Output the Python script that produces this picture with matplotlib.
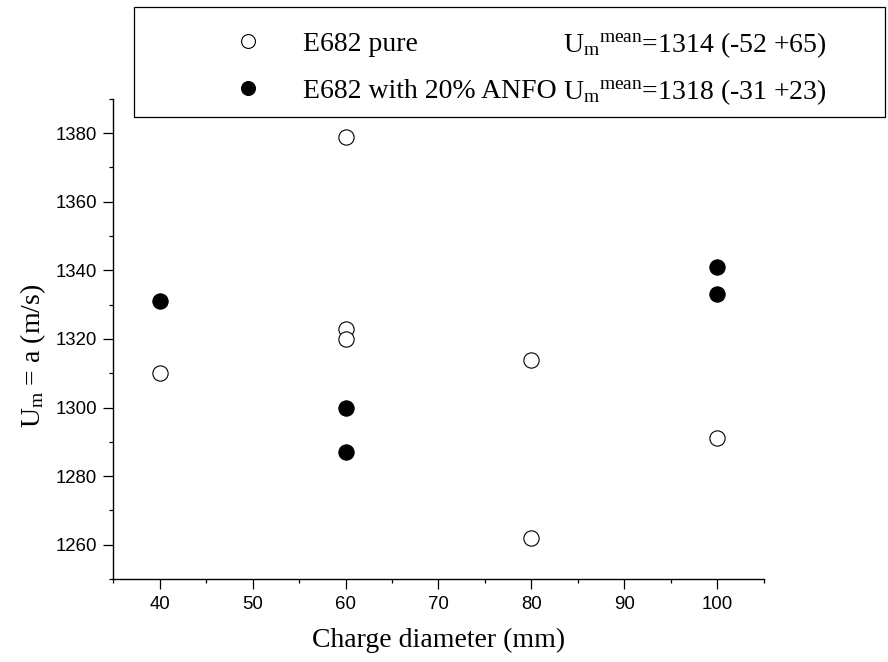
import matplotlib
matplotlib.use('Agg')
import matplotlib.pyplot as plt
from matplotlib.lines import Line2D
from matplotlib.patches import Rectangle
from matplotlib.ticker import MultipleLocator

plt.rcParams['mathtext.fontset'] = 'custom'
plt.rcParams['mathtext.rm'] = 'Liberation Serif'
plt.rcParams['mathtext.it'] = 'Liberation Serif:italic'

# E682 pure (open circles)
pure_d = [40, 60, 60, 60, 80, 80, 100]
pure_u = [1310, 1379, 1323, 1320, 1314, 1262, 1291]

# E682 with 20% ANFO (filled circles)
anfo_d = [40, 60, 60, 100, 100]
anfo_u = [1331, 1300, 1287, 1341, 1333]

labels = ['E682 pure', 'E682 with 20% ANFO']
stats = [r'U$_\mathrm{m}{}^\mathrm{mean}$=1314 (-52 +65)',
         r'U$_\mathrm{m}{}^\mathrm{mean}$=1318 (-31 +23)']

fig = plt.figure(figsize=(8.88, 6.62), dpi=100)
ax = fig.add_axes([0.1278, 0.1254, 0.732, 0.7252])

ax.plot(pure_d, pure_u, 'o', ms=11, mfc='white', mec='black', mew=0.8, zorder=3)
ax.plot(anfo_d, anfo_u, 'o', ms=11, mfc='black', mec='black', mew=0.8, zorder=3)

ax.set_xlim(35, 105)
ax.set_ylim(1250, 1390)
ax.xaxis.set_major_locator(MultipleLocator(10))
ax.xaxis.set_minor_locator(MultipleLocator(5))
ax.yaxis.set_major_locator(MultipleLocator(20))
ax.yaxis.set_minor_locator(MultipleLocator(10))
ax.spines['top'].set_visible(False)
ax.spines['right'].set_visible(False)
for s in ('left', 'bottom'):
    ax.spines[s].set_linewidth(1.0)
ax.tick_params(which='major', direction='out', length=7, width=0.9, labelsize=13.4, pad=5)
ax.tick_params(which='minor', direction='out', length=3, width=0.9)
for lab in ax.get_xticklabels() + ax.get_yticklabels():
    lab.set_fontfamily('Liberation Sans')

ax.set_xlabel('Charge diameter (mm)', fontfamily='Liberation Serif', fontsize=20)
ax.set_ylabel(r'U$_\mathrm{m}$ = a (m/s)', fontfamily='Liberation Serif', fontsize=20)
ax.xaxis.set_label_coords(0.5, -0.102)
ax.yaxis.set_label_coords(-0.1, 0.465)

# legend frame
fig.patches.append(Rectangle((134 / 888, 1 - 117 / 662), (885 - 134) / 888, 110 / 662,
                             transform=fig.transFigure, fill=True, facecolor='white',
                             edgecolor='black', linewidth=0.9, zorder=5))

h_open = Line2D([], [], ls='none', marker='o', ms=10, mfc='white', mec='black', mew=0.8)
h_fill = Line2D([], [], ls='none', marker='o', ms=10, mfc='black', mec='black', mew=0.8)
leg = fig.legend([h_open, h_fill], labels,
                 loc='center left', bbox_to_anchor=(220 / 888, 1 - 67.5 / 662),
                 frameon=False, prop={'family': 'Liberation Serif', 'size': 20},
                 handlelength=1.0, handletextpad=1.5,
                 labelspacing=0.77, borderpad=0)
leg.set_zorder(6)

# mean values, one per legend row
for s, yb in zip(stats, [52.3, 99]):
    fig.text(563 / 888, 1 - yb / 662, s, ha='left', va='baseline',
             fontfamily='Liberation Serif', fontsize=20, zorder=6)

fig.savefig('out.png', dpi=100)
